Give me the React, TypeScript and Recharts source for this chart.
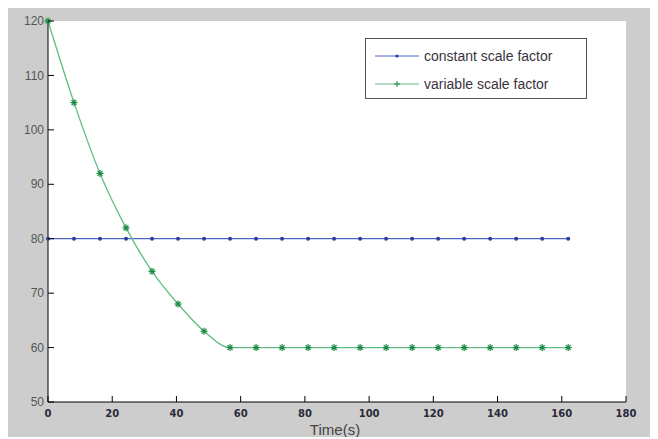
import { LineChart, Line, XAxis, YAxis, ReferenceArea } from "recharts";

const time = [0, 8.1, 16.2, 24.3, 32.4, 40.5, 48.6, 56.7, 64.8, 72.9, 81, 89.1, 97.2, 105.3, 113.4, 121.5, 129.6, 137.7, 145.8, 153.9, 162];
const constantScale = [80, 80, 80, 80, 80, 80, 80, 80, 80, 80, 80, 80, 80, 80, 80, 80, 80, 80, 80, 80, 80];
const variableScale = [120, 105, 92, 82, 74, 68, 63, 60, 60, 60, 60, 60, 60, 60, 60, 60, 60, 60, 60, 60, 60];
const xTicks = [0, 20, 40, 60, 80, 100, 120, 140, 160, 180];
const yTicks = [50, 60, 70, 80, 90, 100, 110, 120];

const data = time.map((t, i) => ({ t, constant: constantScale[i], variable: variableScale[i] }));

const BLUE = "#4d64c6";
const BLUE_DOT = "#2b3f9e";
const GREEN = "#62bd84";
const GREEN_DOT = "#168a40";

const TICK = 6;

const BottomTick = (p: any) => (
  <g>
    <line x1={p.x} x2={p.x} y1={p.y} y2={p.y - TICK} stroke="#000" />
    <text x={p.x} y={p.y + 15} textAnchor="middle" fontFamily="DejaVu Sans" fontWeight="bold" fontSize={10} fill="#2a2a3a">
      {p.payload.value}
    </text>
  </g>
);

const TopTick = (p: any) => <line x1={p.x} x2={p.x} y1={p.y} y2={p.y + TICK} stroke="#000" />;

const LeftTick = (p: any) => (
  <g>
    <line x1={p.x} x2={p.x + TICK} y1={p.y} y2={p.y} stroke="#000" />
    <text x={p.x - 4} y={p.y} dy="0.35em" textAnchor="end" fontFamily="Liberation Sans" fontSize={12} fill="#555">
      {p.payload.value}
    </text>
  </g>
);

const RightTick = (p: any) => <line x1={p.x - TICK} x2={p.x} y1={p.y} y2={p.y} stroke="#000" />;

const PointDot = (p: any) => <circle key={p.index} cx={p.cx} cy={p.cy} r={2} fill={BLUE_DOT} />;

const StarDot = (p: any) => {
  const r = 3.5;
  const d = r * 0.7;
  return (
    <g key={p.index} stroke={GREEN_DOT} strokeWidth={1.2}>
      <line x1={p.cx} x2={p.cx} y1={p.cy - r} y2={p.cy + r} />
      <line x1={p.cx - r} x2={p.cx + r} y1={p.cy} y2={p.cy} />
      <line x1={p.cx - d} x2={p.cx + d} y1={p.cy - d} y2={p.cy + d} />
      <line x1={p.cx - d} x2={p.cx + d} y1={p.cy + d} y2={p.cy - d} />
    </g>
  );
};

function LegendBox() {
  const rows = [
    { label: "constant scale factor", color: BLUE, star: false },
    { label: "variable scale factor", color: GREEN, star: true },
  ];
  return (
    <div
      style={{
        position: "absolute",
        left: 357,
        top: 30,
        width: 220,
        height: 59,
        background: "#fff",
        border: "1px solid #555",
      }}
    >
      {rows.map((r, i) => (
        <div key={r.label} style={{ position: "absolute", left: 8, top: 7 + i * 28, height: 20, display: "flex", alignItems: "center" }}>
          <svg width={46} height={20}>
            <line x1={1} x2={45} y1={10} y2={10} stroke={r.color} />
            {r.star ? (
              <g stroke={GREEN_DOT}>
                <line x1={23} x2={23} y1={7} y2={13} />
                <line x1={20} x2={26} y1={10} y2={10} />
              </g>
            ) : (
              <circle cx={23} cy={10} r={1.6} fill={BLUE_DOT} />
            )}
          </svg>
          <span style={{ marginLeft: 4, fontFamily: "Liberation Sans", fontSize: 14, color: "#3a3340" }}>{r.label}</span>
        </div>
      ))}
    </div>
  );
}

export default function App() {
  return (
    <div style={{ position: "relative", width: 650, height: 429, background: "#cdcdcd" }}>
      <LineChart width={650} height={429} data={data} margin={{ top: 13, right: 32, bottom: 0, left: 0 }}>
        <XAxis
          dataKey="t"
          type="number"
          domain={[0, 180]}
          ticks={xTicks}
          tickSize={0}
          tickMargin={0}
          tickLine={false}
          tick={BottomTick}
          height={35}
          stroke="#000"
          interval={0}
        />
        <XAxis
          xAxisId="top"
          orientation="top"
          type="number"
          domain={[0, 180]}
          ticks={xTicks}
          tickSize={0}
          tickMargin={0}
          tickLine={false}
          tick={TopTick}
          height={0}
          stroke="#000"
          interval={0}
        />
        <YAxis
          type="number"
          domain={[50, 120]}
          ticks={yTicks}
          tickSize={0}
          tickMargin={0}
          tickLine={false}
          tick={LeftTick}
          width={40}
          stroke="#000"
          interval={0}
        />
        <YAxis
          yAxisId="right"
          orientation="right"
          type="number"
          domain={[50, 120]}
          ticks={yTicks}
          tickSize={0}
          tickMargin={0}
          tickLine={false}
          tick={RightTick}
          width={0}
          stroke="#000"
          interval={0}
        />
        <ReferenceArea x1={0} x2={180} y1={50} y2={120} fill="#fff" fillOpacity={1} stroke="none" />
        <Line
          dataKey="constant"
          type="linear"
          stroke={BLUE}
          strokeWidth={1.3}
          dot={PointDot}
          activeDot={false}
          isAnimationActive={false}
        />
        <Line
          dataKey="variable"
          type="monotone"
          stroke={GREEN}
          strokeWidth={1.3}
          dot={StarDot}
          activeDot={false}
          isAnimationActive={false}
        />
      </LineChart>
      <div
        style={{
          position: "absolute",
          left: 0,
          width: 650,
          top: 414,
          textAlign: "center",
          fontFamily: "Liberation Sans",
          fontSize: 15,
          color: "#444",
          lineHeight: "16px",
          paddingLeft: 4,
          boxSizing: "border-box",
        }}
      >
        Time(s)
      </div>
      <LegendBox />
    </div>
  );
}
